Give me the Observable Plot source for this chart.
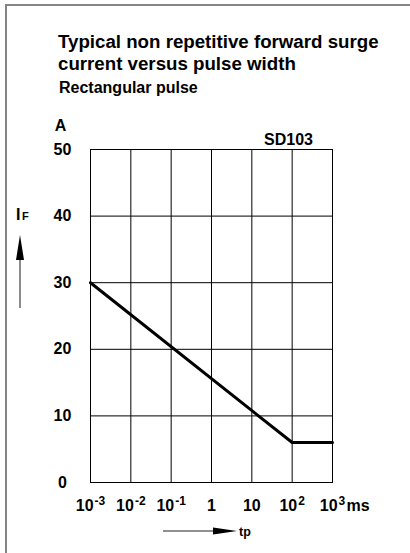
<!DOCTYPE html>
<html>
<head>
<meta charset="utf-8">
<script src="https://cdn.jsdelivr.net/npm/d3@7"></script>
<script src="https://cdn.jsdelivr.net/npm/@observablehq/plot@0.6"></script>
<style>
  html, body { margin: 0; padding: 0; background: #fff; }
  #wrap { position: relative; width: 410px; height: 553px; overflow: hidden; font-family: "Liberation Sans", Arial, sans-serif; font-weight: bold; color: #000; }
  #wrap > svg, #wrap > div { position: absolute; }
  .title { left: 58px; top: 30.5px; font-size: 18.7px; line-height: 22.7px; white-space: nowrap; }
  .subtitle { left: 59px; top: 77.7px; font-size: 16px; line-height: 19.8px; white-space: nowrap; }
</style>
</head>
<body>
<div id="wrap">
  <div class="title">Typical non repetitive forward surge<br>current versus pulse width</div>
  <div class="subtitle">Rectangular pulse</div>
</div>
<script>
// ---- data ----
const xTicks = [1e-3, 1e-2, 1e-1, 1, 10, 100, 1000];
const xTickLabels = ["10^-3", "10^-2", "10^-1", "1", "10", "10^2", "10^3"];
const yTicks = [0, 10, 20, 30, 40, 50];
const pulseWidthMs = [0.001, 100, 1000];
const surgeCurrentA = [30, 6, 6];
const deviceName = "SD103";
const yUnit = "A";
const xUnit = "ms";

const curve = pulseWidthMs.map((x, i) => ({x, y: surgeCurrentA[i]}));
const fmtX = d => xTickLabels[xTicks.findIndex(t => Math.abs(Math.log10(t) - Math.log10(d)) < 1e-9)];

const chart = Plot.plot({
  width: 410,
  height: 553,
  marginLeft: 90,
  marginRight: 78,
  marginTop: 149,
  marginBottom: 71,
  style: {fontFamily: "'Liberation Sans', Arial, sans-serif", fontSize: "16px", fontWeight: "bold", color: "#000", background: "transparent"},
  x: {type: "log", domain: [1e-3, 1e3]},
  y: {domain: [0, 50]},
  marks: [
    Plot.gridX(xTicks, {stroke: "#000", strokeOpacity: 1, strokeWidth: 1}),
    Plot.gridY(yTicks, {stroke: "#000", strokeOpacity: 1, strokeWidth: 1}),
    Plot.frame({stroke: "#000"}),
    Plot.axisX({ticks: xTicks, tickFormat: fmtX, tickSize: 0, tickPadding: 17, label: null}),
    Plot.axisY({ticks: yTicks, tickSize: 0, tickPadding: 28, textAnchor: "middle", label: null}),
    Plot.line(curve, {x: "x", y: "y", stroke: "#000", strokeWidth: 3}),
    Plot.text([yUnit], {frameAnchor: "top-left", textAnchor: "middle", lineAnchor: "middle", dx: -30, dy: -24}),
    Plot.text([deviceName], {frameAnchor: "top-right", textAnchor: "middle", lineAnchor: "middle", dx: -44, dy: -10}),
    Plot.text([xUnit], {frameAnchor: "bottom-right", textAnchor: "start", lineAnchor: "middle", dx: 14, dy: 23})
  ]
});

// superscripts on the x tick labels
const NS = "http://www.w3.org/2000/svg";
chart.querySelectorAll('g[aria-label="x-axis tick label"] text').forEach(t => {
  const s = t.textContent;
  if (s.includes("^")) {
    const [b, e] = s.split("^");
    t.textContent = "";
    const t1 = document.createElementNS(NS, "tspan");
    t1.textContent = b;
    const t2 = document.createElementNS(NS, "tspan");
    t2.setAttribute("dy", "-6");
    t2.setAttribute("dx", "1");
    t2.setAttribute("font-size", "12px");
    t2.textContent = e;
    t.appendChild(t1);
    t.appendChild(t2);
  }
});

const wrap = document.getElementById("wrap");
chart.style.left = "0px";
chart.style.top = "0px";
wrap.appendChild(chart);

// decorations: page frame, axis arrows and labels
const deco = document.createElementNS(NS, "svg");
deco.setAttribute("width", "410");
deco.setAttribute("height", "553");
deco.style.left = "0px";
deco.style.top = "0px";
deco.innerHTML = `
  <line x1="6" y1="5" x2="6" y2="553" stroke="#858585" stroke-width="2"/>
  <line x1="5" y1="5" x2="410" y2="5" stroke="#858585" stroke-width="2"/>
  <line x1="20" y1="256" x2="20" y2="308" stroke="#666" stroke-width="1.5"/>
  <polygon points="20,235 16,260 24,260" fill="#000"/>
  <text x="16" y="220" font-family="Liberation Sans, Arial, sans-serif" font-weight="bold" font-size="16">I<tspan font-size="11" dx="1.5">F</tspan></text>
  <line x1="163" y1="531" x2="216" y2="531" stroke="#222" stroke-width="1.2"/>
  <polygon points="237,531 213,527.5 213,534.5" fill="#000"/>
  <text x="239" y="536" font-family="Liberation Sans, Arial, sans-serif" font-weight="bold" font-size="12.5">tp</text>
`;
wrap.appendChild(deco);
</script>
</body>
</html>
